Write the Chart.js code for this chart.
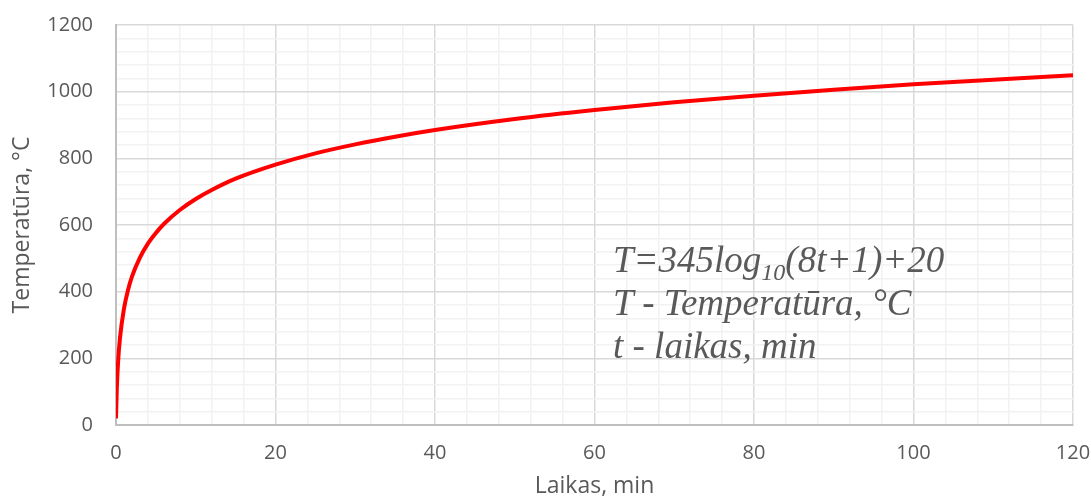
<!DOCTYPE html>
<html>
<head>
<meta charset="utf-8">
<script src="https://cdn.jsdelivr.net/npm/chart.js@4"></script>
<style>
  html, body { margin: 0; padding: 0; background: #fff; }
  #wrap { position: relative; width: 1091px; height: 500px; }
  #note {
    position: absolute; left: 613px; top: 238px;
    font-family: "Liberation Serif", serif; font-style: italic;
    font-size: 37px; line-height: 43px; color: #595959; white-space: nowrap;
  }
  #note sub { font-size: 24px; vertical-align: -8px; line-height: 0; }
</style>
</head>
<body>
<div id="wrap">
  <canvas id="fire-chart" width="1091" height="500"></canvas>
  <div id="note">
    T=345log<sub>10</sub>(8t+1)+20<br>
    T - Temperatūra, °C<br>
    t - laikas, min
  </div>
</div>
<script>
// values
const times = [0, 0.1, 0.25, 0.5, 1, 1.5, 2, 3, 4, 5, 6, 8, 10, 12, 15, 20, 25, 30, 35, 40, 50, 60, 70, 80, 90, 100, 110, 120];
const temps = [20, 108, 185, 261, 349, 404, 445, 502, 544, 576, 603, 645, 678, 705, 739, 781, 815, 842, 865, 885, 918, 945, 968, 988, 1006, 1022, 1036, 1049];

const xTickStep = 4, xLabelStep = 20;
const yTickStep = 40, yLabelStep = 200;

const gridColor = (step) => (ctx) => (ctx.tick && ctx.tick.value % step === 0) ? '#d9d9d9' : '#f2f2f2';
const tickFont = { family: "'Open Sans', 'Liberation Sans', sans-serif", size: 20 };
const titleFont = { family: "'Open Sans', 'Liberation Sans', sans-serif", size: 23 };

// keep the label overflow from pushing the plot area around
function noOverflow(scale) {
    scale.paddingTop = 0;
    scale.paddingBottom = 0;
    scale.paddingLeft = 0;
    scale.paddingRight = 0;
}

new Chart(document.querySelector('#fire-chart').getContext('2d'), {
    type: 'scatter',
    data: {
        datasets: [{
            data: times.map((t, i) => ({ x: t, y: temps[i] })),
            showLine: true,
            borderColor: '#ff0000',
            backgroundColor: '#ff0000',
            borderWidth: 4,
            pointRadius: 0,
            tension: 0.4,
            cubicInterpolationMode: 'monotone'
        }]
    },
    options: {
        responsive: false,
        animation: false,
        layout: { padding: { top: 25, right: 18, left: 9, bottom: 0 } },
        plugins: { legend: { display: false }, tooltip: { enabled: false } },
        scales: {
            x: {
                type: 'linear', min: 0, max: 120,
                afterFit: s => { noOverflow(s); s.height = 75; },
                ticks: {
                    stepSize: xTickStep, autoSkip: false, maxRotation: 0,
                    color: '#595959', font: tickFont, padding: 16,
                    callback: v => v % xLabelStep === 0 ? v : ''
                },
                grid: { color: gridColor(xLabelStep), lineWidth: 1.5, drawTicks: false },
                border: { color: '#bfbfbf', width: 2 },
                title: { display: true, text: 'Laikas, min', color: '#595959', font: titleFont, padding: { top: 0, bottom: 0 } }
            },
            y: {
                min: 0, max: 1200,
                afterFit: s => { noOverflow(s); s.width = 107; },
                ticks: {
                    stepSize: yTickStep, autoSkip: false,
                    color: '#595959', font: tickFont, padding: 23,
                    callback: v => v % yLabelStep === 0 ? v : ''
                },
                grid: { color: gridColor(yLabelStep), lineWidth: 1.5, drawTicks: false },
                border: { color: '#bfbfbf', width: 2 },
                title: { display: true, text: 'Temperatūra, °C', color: '#595959', font: titleFont, padding: { top: 0, bottom: 0 } }
            }
        }
    }
});
</script>
</body>
</html>
